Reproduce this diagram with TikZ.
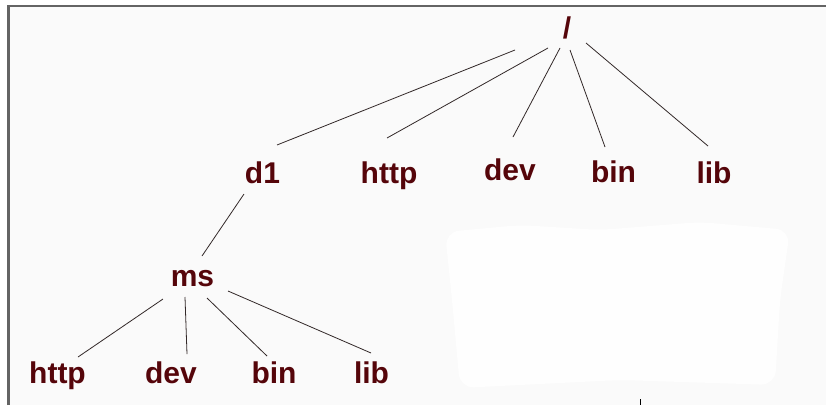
\documentclass[tikz,border=0pt]{standalone}
\usepackage{fontspec}
\setmainfont{Liberation Sans}
\usetikzlibrary{calc}
\definecolor{txt}{RGB}{85,5,10}
\definecolor{edge}{RGB}{50,40,40}
\definecolor{frame}{RGB}{100,100,100}
\definecolor{bgc}{RGB}{250,250,250}
\definecolor{blob}{RGB}{254,254,254}
\begin{document}
\begin{tikzpicture}[x=1pt,y=-1pt,
  lbl/.style={anchor=base,inner sep=0pt,text=txt,font=\fontsize{30}{36}\selectfont\bfseries},
  edg/.style={draw=edge,line width=0.8pt}]
\useasboundingbox (0,0) rectangle (826,405);
\fill[white] (0,0) rectangle (826,405);
\fill[bgc] (8.5,6) rectangle (826,405);
\fill[blob,rounded corners=14pt] (445,232) -- (520,225) -- (600,230) -- (700,222) -- (790,230) -- (780,300) -- (775,385) -- (620,380) -- (460,388) -- (452,300) -- cycle;
\draw[frame,line width=2.2pt] (8.5,405) -- (8.5,6) -- (826,6);
\draw[black,line width=0.8pt] (640,399) -- (640,405);
% nodes
\node[lbl] (root) at (567,38) {/};
\node[lbl] (d1) at (262.5,183) {d1};
\node[lbl] (http1) at (389,183) {http};
\node[lbl] (dev1) at (510,180) {dev};
\node[lbl] (bin1) at (613.5,182) {bin};
\node[lbl] (lib1) at (714,183) {lib};
\node[lbl] (ms) at (192.5,286) {ms};
\node[lbl] (http2) at (57.5,383) {http};
\node[lbl] (dev2) at (171,383) {dev};
\node[lbl] (bin2) at (274,383) {bin};
\node[lbl] (lib2) at (371.5,383) {lib};
% connectors
\draw[edg] ($(root.base)+(-52,12)$) -- ($(d1.base)+(14.5,-38)$);
\draw[edg] ($(root.base)+(-19,10)$) -- ($(http1.base)+(-2,-45)$);
\draw[edg] ($(root.base)+(-7,10)$) -- ($(dev1.base)+(3,-43)$);
\draw[edg] ($(root.base)+(3,12)$) -- ($(bin1.base)+(-8.5,-35)$);
\draw[edg] ($(root.base)+(19,5)$) -- ($(lib1.base)+(-6,-37)$);
\draw[edg] ($(d1.base)+(-18.5,11)$) -- ($(ms.base)+(9.5,-30)$);
\draw[edg] ($(ms.base)+(-29.5,13)$) -- ($(http2.base)+(20.5,-26)$);
\draw[edg] ($(ms.base)+(-7.5,11)$) -- ($(dev2.base)+(16,-29)$);
\draw[edg] ($(ms.base)+(14.5,12)$) -- ($(bin2.base)+(-7,-27)$);
\draw[edg] ($(ms.base)+(35.5,5)$) -- ($(lib2.base)+(-0.5,-30)$);
\end{tikzpicture}
\end{document}
